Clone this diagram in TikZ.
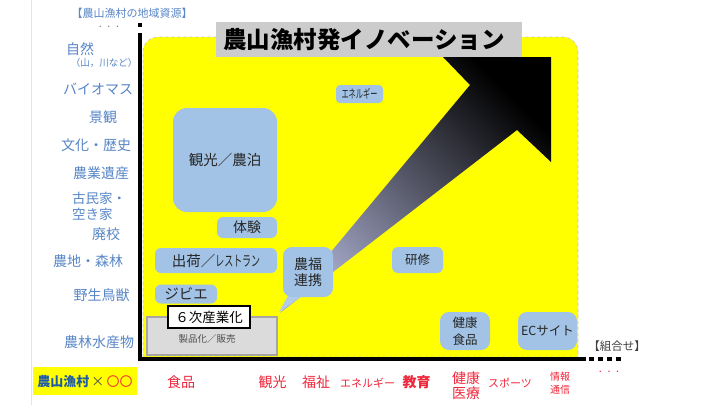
\documentclass[tikz,border=0pt]{standalone}
\usepackage{fontspec}
\setmainfont{Noto Sans CJK JP}
\usepackage{graphicx}
\definecolor{boxblue}{RGB}{162,195,229}
\definecolor{ylw}{RGB}{255,255,0}
\definecolor{lblue}{RGB}{88,134,198}
\definecolor{dblue}{RGB}{30,90,170}
\definecolor{redc}{RGB}{238,40,60}
\definecolor{titlegray}{RGB}{204,204,204}
\definecolor{shaftlight}{RGB}{168,172,204}
\definecolor{shaftmid}{RGB}{64,66,84}
\newcommand\fsz[2]{\fontsize{#1pt}{#2pt}\selectfont}
\begin{document}
\begin{tikzpicture}[x=1pt,y=-1pt,
  bbox/.style={fill=boxblue, rounded corners=6pt, inner sep=0pt, align=center, text=black!85},
  lft/.style={text=lblue, inner sep=0pt, font=\fsz{14}{16}},
  btm/.style={text=redc, inner sep=0pt, align=center, font=\fsz{14}{15}}]
\useasboundingbox[fill=white] (0,0) rectangle (720,405);
\draw[gray!20, line width=0.8pt] (31,0) -- (31,405);

% yellow field
\filldraw[fill=ylw, draw=gray!45, dashed, line width=0.6pt]
  (143,357) -- (143,52) arc[start angle=180,end angle=270,radius=15]
  -- (563,37) arc[start angle=270,end angle=360,radius=15] -- (578,357) -- cycle;

% title
\node[fill=titlegray, minimum width=306pt, minimum height=35pt, inner sep=0pt] (titlebox) at (369,39.5) {};
\node[inner sep=0pt, font=\fsz{23.5}{25}\bfseries] (title) at (364,40) {農山漁村発イノベーション};

% axes
\fill (138,23) rectangle (142,27);
\draw[line width=4pt] (140,33) -- (140,361);
\draw[line width=4pt] (138,359) -- (586,359);
\draw[line width=4pt, dash pattern=on 5pt off 4pt] (589,359) -- (624,359);

% big arrow
\shade[shading=axis, bottom color=shaftlight, middle color=shaftmid, top color=black, shading angle=-45]
  (280,313) -- (470,85) -- (443,57) -- (551,57) -- (551,162) -- (517,130) -- cycle;

% left labels
\node[inner sep=0pt, text=lblue, font=\fsz{11}{12}] (head) at (132,13) {【農山漁村の地域資源】};
\node[inner sep=0pt, text=gray, font=\fsz{7}{8}] (dots1) at (109,28) {・ ・ ・};
\node[lft] (l1) at (80,49) {自然};
\node[lft, font=\fsz{9.5}{11}] (l1b) at (104,63) {（山，川など）};
\node[lft] (l2) at (98,89) {バイオマス};
\node[lft] (l3) at (103,117) {景観};
\node[lft] (l4) at (96,145) {文化・歴史};
\node[lft] (l5) at (101,173) {農業遺産};
\node[lft, anchor=west, font=\fsz{13.5}{15}] (l6) at (72,198) {古民家・};
\node[lft, anchor=west, font=\fsz{13.5}{15}] (l6b) at (72,214) {空き家};
\node[lft] (l7) at (106,234) {廃校};
\node[lft] (l8) at (88,261) {農地・森林};
\node[lft] (l9) at (101.5,295) {野生鳥獣};
\node[lft] (l10) at (99,342) {農林水産物};

% bottom-left key
\node[fill=ylw, minimum width=104pt, minimum height=28pt, inner sep=0pt] (keybox) at (85,381) {};
\node[inner sep=0pt, font=\fsz{13}{14}] (key) at (85,382) {{\bfseries\color{dblue}農山漁村}\,{\color{black!70}×}\,{\color{redc}〇〇}};

% bottom labels
\node[btm] (b1) at (181,382) {食品};
\node[btm] (b2) at (272.5,382) {観光};
\node[btm] (b3) at (316,382) {福祉};
\node[btm, font=\fsz{11}{12}] (b4) at (367.5,383) {エネルギー};
\node[btm, font=\fsz{14}{15}\bfseries] (b5) at (416.5,382) {教育};
\node[btm] (b6) at (466,385.5) {健康\\医療};
\node[btm, font=\fsz{11}{12}] (b7) at (510,383) {スポーツ};
\node[btm, font=\fsz{10}{13}] (b8) at (560,383.5) {情報\\通信};
\node[btm, font=\fsz{7}{8}] (b9) at (609,373) {・ ・ ・};
\node[inner sep=0pt, text=black!75, font=\fsz{11.5}{12}] (kumi) at (617,346) {【組合せ】};

% boxes
\node[draw=gray!70, line width=1.2pt, fill=gray!28, minimum width=130pt, minimum height=38pt, inner sep=0pt] (seihin) at (212,336) {};
\node[inner sep=0pt, text=black!70, font=\fsz{9.5}{10}] (seihint) at (207,339) {製品化／販売};
\node[draw=black, line width=1.2pt, fill=white, minimum width=82pt, minimum height=22pt, inner sep=0pt, font=\fsz{13.5}{15}] (rokuji) at (209,317) {６次産業化};
\node[bbox, rounded corners=14pt, minimum width=104pt, minimum height=104pt, font=\fsz{14.5}{16}] (kanko) at (225,160) {観光／農泊};
\node[bbox, minimum width=60pt, minimum height=21pt, font=\fsz{14}{15}] (taiken) at (247,227.5) {体験};
\node[bbox, minimum width=122pt, minimum height=25pt, font=\fsz{14.5}{15}] (shukka) at (216,260.5) {出荷／\scalebox{0.62}[1]{レストラン}};
\node[bbox, minimum width=62pt, minimum height=19pt, font=\fsz{14.5}{15}] (jibie) at (186,294) {ジビエ};
\coordinate (nftip) at (279,312);
\fill[boxblue!85!white] (288,296) -- (302,296) -- (nftip) -- cycle;
\node[bbox, rounded corners=9pt, minimum width=50pt, minimum height=50pt, font=\fsz{14}{16.5}] (noufuku) at (308,272) {農福\\連携};
\node[bbox, minimum width=51pt, minimum height=26pt, font=\fsz{12.5}{14}] (kenshu) at (417.5,260) {研修};
\node[bbox, rounded corners=9pt, minimum width=50pt, minimum height=38pt, font=\fsz{12.5}{17}] (kenkou) at (465,331) {健康\\食品};
\node[bbox, rounded corners=9pt, minimum width=59pt, minimum height=38pt, font=\fsz{12.5}{14}] (ec) at (547.5,331) {ECサイト};
\node[bbox, rounded corners=4pt, minimum width=47pt, minimum height=18pt, font=\fsz{12}{13}] (energy) at (359.5,94) {\scalebox{0.6}[1]{エネルギー}};
\end{tikzpicture}
\end{document}
